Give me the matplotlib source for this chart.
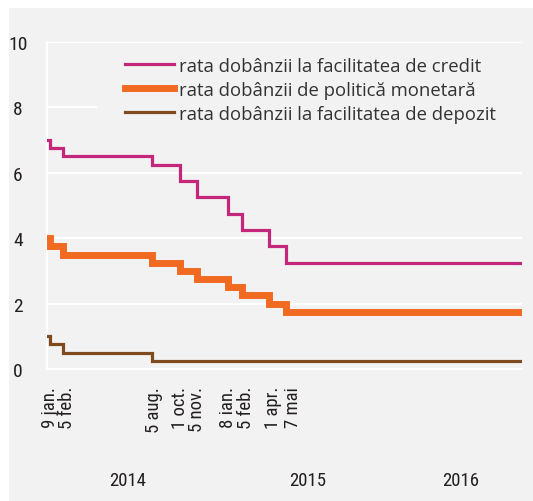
import matplotlib
matplotlib.use("Agg")
import matplotlib.pyplot as plt
import matplotlib.font_manager as fm
from matplotlib.patches import Rectangle
from matplotlib.transforms import blended_transform_factory, ScaledTranslation
import datetime as dt

# ---------------- data ----------------
dates = ["2014-01-03", "2014-01-09", "2014-02-05", "2014-08-05", "2014-10-01",
         "2014-11-05", "2015-01-08", "2015-02-05", "2015-04-01", "2015-05-07",
         "2016-08-31"]
credit = [7.0, 6.75, 6.5, 6.25, 5.75, 5.25, 4.75, 4.25, 3.75, 3.25, 3.25]
policy = [4.0, 3.75, 3.5, 3.25, 3.0, 2.75, 2.5, 2.25, 2.0, 1.75, 1.75]
deposit = [1.0, 0.75, 0.5, 0.25, 0.25, 0.25, 0.25, 0.25, 0.25, 0.25, 0.25]

tick_dates = ["2014-01-09", "2014-02-05", "2014-08-05", "2014-10-01", "2014-11-05",
              "2015-01-08", "2015-02-05", "2015-04-01", "2015-05-07"]
tick_labels = ["9 jan.", "5 feb.", "5 aug.", "1 oct.", "5 nov.",
               "8 ian.", "5 feb.", "1 apr.", "7 mai"]
year_labels = ["2014", "2015", "2016"]
year_label_dates = ["2014-06-16", "2015-06-19", "2016-04-28"]

series_names = ["rata dobânzii la facilitatea de credit",
                "rata dobânzii de politică monetară",
                "rata dobânzii la facilitatea de depozit"]

# ---------------- fonts ----------------
def find_condensed():
    prefs = ["LiberationSansNarrow-Regular", "RobotoCondensed-Regular",
             "DejaVuSansCondensed.ttf", "Roboto_Condensed", "OpenSans_Condensed-Regular"]
    files = [f.fname for f in fm.fontManager.ttflist]
    for p in prefs:
        for f in files:
            if p in f.replace(" ", ""):
                return f
    return None

cond_path = find_condensed()
if cond_path:
    cond = fm.FontProperties(fname=cond_path, size=14)
    cond_tick = fm.FontProperties(fname=cond_path, size=13.5)
    cond_year = fm.FontProperties(fname=cond_path, size=13.5)
else:
    cond = fm.FontProperties(family="DejaVu Sans", size=12)
    cond_tick = fm.FontProperties(family="DejaVu Sans", size=11)
    cond_year = fm.FontProperties(family="DejaVu Sans", size=11.5)

BG = "#f2f2f2"
TXT = "#231f20"
C_CREDIT = "#c4267c"
C_POLICY = "#f26a22"
C_DEPOSIT = "#7f4a1e"

x = [dt.datetime.strptime(d, "%Y-%m-%d") for d in dates]
xt = [dt.datetime.strptime(d, "%Y-%m-%d") for d in tick_dates]
xy = [dt.datetime.strptime(d, "%Y-%m-%d") for d in year_label_dates]

W, H = 533, 502
fig = plt.figure(figsize=(W / 100, H / 100), dpi=100, facecolor="white")
fig.patches.append(Rectangle((9 / W, 0), 1, (H - 9) / H, transform=fig.transFigure,
                             facecolor=BG, edgecolor="none", zorder=-10))

ax = fig.add_axes([47 / W, (H - 370) / H, (522 - 47) / W, (370 - 43) / H])
ax.set_facecolor(BG)

ax.plot(x, credit, drawstyle="steps-post", color=C_CREDIT, lw=2.3, label=series_names[0],
        zorder=4, solid_joinstyle="miter")
ax.plot(x, policy, drawstyle="steps-post", color=C_POLICY, lw=5.0, label=series_names[1],
        zorder=4, solid_joinstyle="miter")
ax.plot(x, deposit, drawstyle="steps-post", color=C_DEPOSIT, lw=2.3, label=series_names[2],
        zorder=4, solid_joinstyle="miter")

ax.set_ylim(0, 10)
ax.set_yticks([0, 2, 4, 6, 8, 10])
ax.set_xlim(x[0], x[-1])
ax.grid(axis="y", color="white", lw=1.5, zorder=1)
ax.set_axisbelow(True)
for s in ["top", "right"]:
    ax.spines[s].set_visible(False)
for s in ["left", "bottom"]:
    ax.spines[s].set_color("white")
    ax.spines[s].set_linewidth(1.5)
    ax.spines[s].set_zorder(1)

ax.tick_params(axis="both", length=0)
ax.tick_params(axis="y", pad=21)
for lab in ax.get_yticklabels():
    lab.set_fontproperties(cond)
    lab.set_color(TXT)
    lab.set_horizontalalignment("center")

# date labels (drawn as text so they can sit a few pixels right of each step, as in the source)
ax.set_xticks(xt)
ax.set_xticklabels([])
label_shift_px = [0, 4, 2, 0, 0, 0, 4, 4, 7]
tr = blended_transform_factory(ax.transData, ax.transAxes)
for d, t, dx in zip(xt, tick_labels, label_shift_px):
    off = ScaledTranslation(dx / 100, 0, fig.dpi_scale_trans)
    ax.text(d, -17 / 327, t, transform=tr + off, rotation=90, ha="center", va="top",
            fontproperties=cond_tick, color=TXT)

for d, t in zip(xy, year_labels):
    ax.text(d, -0.338, t, transform=tr, ha="center", va="center",
            fontproperties=cond_year, color=TXT)

# panel behind legend hides the gridline at 8
ax.add_patch(Rectangle(((97 - 47) / 475, 0.76), 0.895, 0.09, transform=ax.transAxes,
                       facecolor=BG, edgecolor="none", zorder=2))

leg = ax.legend(loc="upper left", bbox_to_anchor=((125 - 47) / 475, 0.955),
                frameon=False, borderpad=0, borderaxespad=0, handlelength=2.65,
                handletextpad=0.3, labelspacing=0.33,
                prop=fm.FontProperties(family="Open Sans", size=13.3))
for t in leg.get_texts():
    t.set_color("#333333")
leg.set_zorder(5)

fig.savefig("out.png", dpi=100, facecolor="white")
